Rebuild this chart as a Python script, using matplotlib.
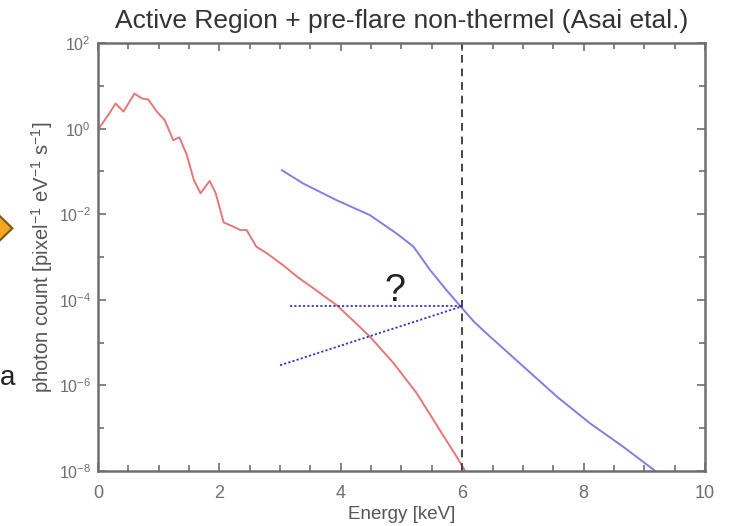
import numpy as np
import matplotlib
matplotlib.use("Agg")
import matplotlib.pyplot as plt
from matplotlib.patches import Polygon
from matplotlib.ticker import FixedLocator, FixedFormatter

plt.rcParams['font.family'] = ['Liberation Sans', 'DejaVu Sans']
plt.rcParams['mathtext.default'] = 'regular'

# active region spectrum (red)
ar_energy = [0.0, 0.03, 0.17, 0.29, 0.42, 0.60, 0.72, 0.83, 0.97, 1.10, 1.24, 1.34,
             1.46, 1.58, 1.69, 1.84, 1.94, 2.07, 2.20, 2.35, 2.45, 2.61, 2.78, 3.05,
             3.30, 3.55, 3.77, 3.93, 4.20, 4.48, 4.87, 5.25, 5.63, 5.91, 6.05]
ar_log = [0.00, 0.04, 0.32, 0.59, 0.40, 0.82, 0.71, 0.68, 0.40, 0.20, -0.27, -0.20,
          -0.60, -1.20, -1.51, -1.22, -1.51, -2.19, -2.27, -2.37, -2.37, -2.76, -2.91, -3.19,
          -3.48, -3.73, -3.96, -4.12, -4.48, -4.86, -5.48, -6.18, -7.04, -7.67, -8.0]

# pre-flare non-thermal spectrum (blue)
nt_energy = [3.03, 3.38, 3.93, 4.48, 4.92, 5.20, 5.47, 5.74, 5.99, 6.20, 6.46, 7.01,
             7.56, 8.11, 8.65, 9.20]
nt_log = [-0.97, -1.28, -1.67, -2.02, -2.45, -2.76, -3.30, -3.77, -4.18, -4.52, -4.86, -5.56,
          -6.26, -6.89, -7.43, -8.02]

# extrapolations to the 6 keV cut
flat_energy = [3.16, 6.0]
flat_log = [-4.15, -4.15]
slope_energy = [3.0, 6.0]
slope_log = [-5.53, -4.15]
cut_energy = 6.0

xticks = [0, 2, 4, 6, 8, 10]
yticks = [1e2, 1e0, 1e-2, 1e-4, 1e-6, 1e-8]
ytick_labels = [r'$10^{2}$', r'$10^{0}$', r'$10^{-2}$', r'$10^{-4}$', r'$10^{-6}$', r'$10^{-8}$']

grey = '#6e6e6e'

fig = plt.figure(figsize=(7.29, 5.26), dpi=100)
ax = fig.add_axes([0.1344, 0.1046, 0.8326, 0.8134])

ax.plot(ar_energy, 10 ** np.array(ar_log), color='#e87676', lw=1.4)
ax.plot(nt_energy, 10 ** np.array(nt_log), color='#7f7fe6', lw=1.4)
ax.plot(flat_energy, 10 ** np.array(flat_log), color='#3535c8', lw=1.3, ls=(0, (1.2, 1.2)))
ax.plot(slope_energy, 10 ** np.array(slope_log), color='#3535c8', lw=1.3, ls=(0, (1.2, 1.2)))
ax.axvline(cut_energy, color='#444444', lw=1.4, ls=(0, (4, 3)))

ax.text(4.9, 10 ** -3.8, '?', fontsize=27, ha='center', va='center', color='#222222')

ax.set_yscale('log')
ax.set_xlim(0, 10)
ax.set_ylim(1e-8, 1e2)

ax.xaxis.set_major_locator(FixedLocator(xticks))
ax.xaxis.set_minor_locator(FixedLocator(np.arange(0, 10.01, 0.5)))
ax.yaxis.set_major_locator(FixedLocator(yticks))
ax.yaxis.set_major_formatter(FixedFormatter(ytick_labels))
ax.yaxis.set_minor_locator(FixedLocator([10.0 ** k for k in range(-7, 2, 2)]))
ax.yaxis.set_minor_formatter(FixedFormatter([''] * 5))

ax.tick_params(which='both', direction='in', top=True, right=True, color=grey,
               labelcolor=grey, width=1.2)
ax.tick_params(which='major', length=6)
ax.tick_params(which='minor', length=4)
ax.tick_params(axis='x', labelsize=13, pad=10)
ax.tick_params(axis='y', labelsize=11.5, pad=5)
for s in ax.spines.values():
    s.set_color(grey)
    s.set_linewidth(1.8)

ax.set_title('Active Region + pre-flare non-thermel (Asai etal.)', fontsize=19,
             color='#333333', pad=11)
ax.set_xlabel('Energy [keV]', fontsize=13.5, color='#555555', labelpad=3)
ax.set_ylabel(r'photon count [pixel$^{-1}$ eV$^{-1}$ s$^{-1}$]', fontsize=14.5,
              color='#555555', labelpad=3)

# slide decorations at the left edge
diamond = Polygon([[-0.012, 0.605], [0.017, 0.566], [-0.012, 0.527], [-0.041, 0.566]],
                  closed=True, transform=fig.transFigure, facecolor='#f5a623',
                  edgecolor='#7a5a10', lw=1.5)
fig.patches.append(diamond)
fig.text(0.0, 0.282, 'a', fontsize=20, color='#222222', ha='left', va='center')

fig.savefig('out.png', dpi=100)
